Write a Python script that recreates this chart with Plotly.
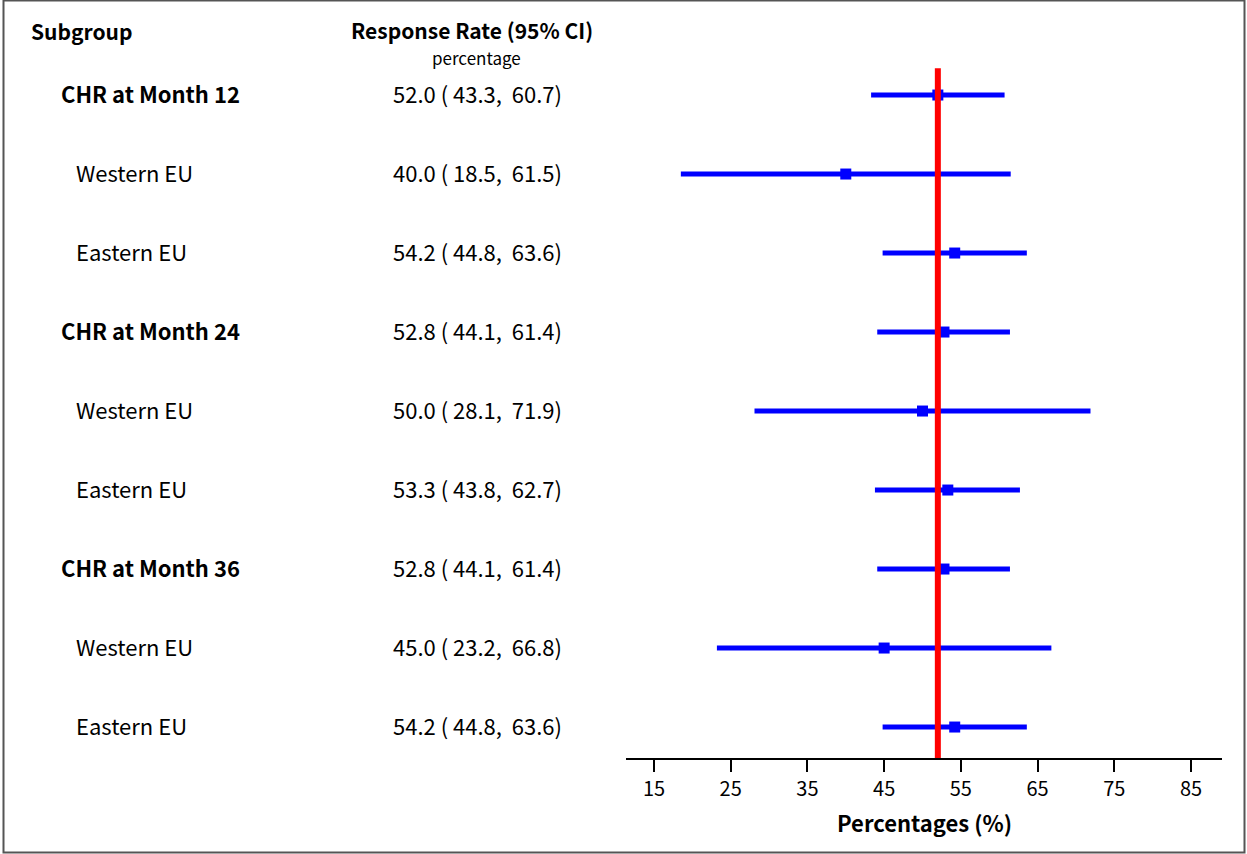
import plotly.graph_objects as go

labels = ["CHR at Month 12", "Western EU", "Eastern EU",
          "CHR at Month 24", "Western EU", "Eastern EU",
          "CHR at Month 36", "Western EU", "Eastern EU"]
is_header = [True, False, False, True, False, False, True, False, False]
estimate = [52.0, 40.0, 54.2, 52.8, 50.0, 53.3, 52.8, 45.0, 54.2]
lower = [43.3, 18.5, 44.8, 44.1, 28.1, 43.8, 44.1, 23.2, 44.8]
upper = [60.7, 61.5, 63.6, 61.4, 71.9, 62.7, 61.4, 66.8, 63.6]
ref_value = 52.0
tick_vals = [15, 25, 35, 45, 55, 65, 75, 85]

W, H = 1247, 854
FONT = "Noto Sans CJK JP"
n = len(labels)
rows = [n - i for i in range(n)]  # top row = n

fig = go.Figure()

# CI lines
for r, lo, hi in zip(rows, lower, upper):
    fig.add_trace(go.Scatter(x=[lo, hi], y=[r, r], mode="lines",
                             line=dict(color="#0000FF", width=5),
                             showlegend=False, hoverinfo="skip"))

# reference line
ymin = 0.608
ymax = ymin + 758 / 79
fig.add_shape(type="line", xref="x", yref="y", x0=ref_value, x1=ref_value,
              y0=ymin, y1=9.34, line=dict(color="#FF0000", width=6), layer="above")

# point estimates
fig.add_trace(go.Scatter(x=estimate, y=rows, mode="markers",
                         marker=dict(symbol="square", size=11, color="#0000FF"),
                         showlegend=False, hoverinfo="skip"))

# text
for r, lab, hdr, e, lo, hi in zip(rows, labels, is_header, estimate, lower, upper):
    fig.add_annotation(xref="paper", yref="y", x=(59 if hdr else 74) / W, y=r,
                       text=f"<b>{lab}</b>" if hdr else lab, showarrow=False,
                       xanchor="left", yanchor="middle", yshift=2,
                       font=dict(family=FONT, size=22, color="black"))
    fig.add_annotation(xref="paper", yref="y", x=477 / W, y=r,
                       text=f"{e:.1f} ( {lo:.1f},  {hi:.1f})", showarrow=False,
                       xanchor="center", yanchor="middle", yshift=2,
                       font=dict(family=FONT, size=22, color="black"))

fig.add_annotation(xref="paper", yref="paper", x=29 / W, y=1 - 31 / H,
                   text="<b>Subgroup</b>", showarrow=False, xanchor="left",
                   yanchor="middle", font=dict(family=FONT, size=21, color="black"))
fig.add_annotation(xref="paper", yref="paper", x=472 / W, y=1 - 30 / H,
                   text="<b>Response Rate (95% CI)</b>", showarrow=False, xanchor="center",
                   yanchor="middle", font=dict(family=FONT, size=21, color="black"))
fig.add_annotation(xref="paper", yref="paper", x=476 / W, y=1 - 58 / H,
                   text="percentage", showarrow=False, xanchor="center",
                   yanchor="middle", font=dict(family=FONT, size=17, color="black"))
fig.add_annotation(xref="paper", yref="paper", x=924 / W, y=1 - 822 / H,
                   text="<b>Percentages (%)</b>", showarrow=False, xanchor="center",
                   yanchor="middle", font=dict(family=FONT, size=22, color="black"))

# border
fig.add_shape(type="rect", xref="paper", yref="paper", x0=3.5 / W, x1=1244.5 / W,
              y0=1.5 / H, y1=1 - 0.5 / H, line=dict(color="#555555", width=2))

x_left, x_right = 625.6, 1222
px_per = (1191 - 654) / 70.0
xr0 = 15 - (654 - x_left) / px_per
xr1 = 85 + (x_right - 1191) / px_per

fig.update_layout(
    width=W, height=H, margin=dict(l=0, r=0, t=0, b=0),
    plot_bgcolor="white", paper_bgcolor="white",
    xaxis=dict(domain=[x_left / W, x_right / W], range=[xr0, xr1],
               tickvals=tick_vals, ticks="outside", ticklen=12, tickwidth=2,
               tickcolor="black", showline=True, linecolor="black", linewidth=2,
               showgrid=False, zeroline=False,
               tickfont=dict(family=FONT, size=20, color="black")),
    yaxis=dict(domain=[(H - 758) / H, 1], range=[ymin, ymax], visible=False,
               showgrid=False, zeroline=False),
)

fig.write_html("out.html")
